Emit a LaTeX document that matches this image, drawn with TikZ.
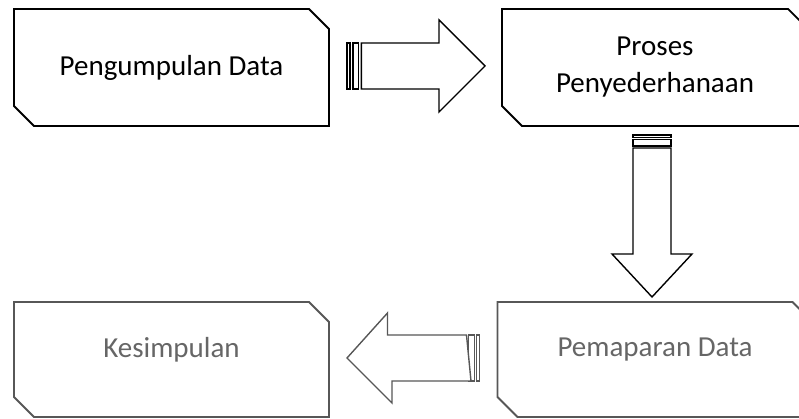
\documentclass[tikz,border=0pt]{standalone}
\usepackage{fontspec}
\setmainfont{Carlito}
\usetikzlibrary{positioning, calc}

\begin{document}
\begin{tikzpicture}[
        x=1pt, y=1pt,
        font=\fontsize{29}{37}\selectfont,
        stage/.style={rectangle, inner sep=0pt, outer sep=0pt, minimum width=315pt, minimum height=117pt, align=center},
        late/.style={text=black!60, minimum height=115pt, text depth=24pt},
        edge/.style={draw, line width=1.8pt, line join=miter},
        faded/.style={draw=black!66},
        barrow/.style={draw, line width=1.4pt, fill=white, line join=miter},
        node distance=176pt and 173pt
        ]
        \useasboundingbox (0,0) rectangle (799,419);
        % stages
        \node[stage] (data) at (171.5,351.5) {Pengumpulan Data};
        \node[stage, right=of data, minimum width=306pt] (proses) {Proses\\Penyederhanaan};
        \node[stage, late, below=of proses] (paparan) {Pemaparan Data};
        \node[stage, late, below=of data] (simpulan) {Kesimpulan};
        % chamfered outlines
        \foreach \n/\s in {data/, proses/, paparan/faded, simpulan/faded}
            \draw[edge, \s] ([xshift=-20pt]\n.north east) -- ([yshift=-20pt]\n.north east) -- (\n.south east)
                -- ([xshift=20pt]\n.south west) -- ([yshift=20pt]\n.south west) -- (\n.north west) -- cycle;
        % data -> proses
        \coordinate (a1) at ([xshift=18pt, yshift=1.5pt]data.east);
        \draw[barrow] (a1) ++(0,-23) rectangle ++(2.9,46);
        \draw[barrow] (a1) ++(5.8,-23) rectangle ++(5.8,46);
        \draw[barrow] (a1) ++(14.4,23) -- ++(77.6,0) -- ++(0,23) -- ($(proses.west)+(-17,1.5)$)
            -- ++(-46,-46) -- ++(0,23) -- ++(-77.6,0) -- cycle;
        % proses -> pemaparan
        \coordinate (a2) at ([xshift=-3pt, yshift=-9pt]proses.south);
        \draw[barrow] (a2) ++(-19,0) rectangle ++(38,-2.5);
        \draw[barrow] (a2) ++(-19,-4.5) rectangle ++(38,-6.5);
        \draw[barrow] (a2) ++(-19,-13) -- ++(38,0) -- ++(0,-106) -- ++(21,0)
            -- ($(paparan.north)+(-3,5)$) -- ++(-40,43) -- ++(21,0) -- cycle;
        % pemaparan -> kesimpulan
        \coordinate (a3) at ([xshift=-18pt, yshift=1.5pt]paparan.west);
        \draw[barrow, faded] (a3) ++(0,-23) rectangle ++(-2.9,46);
        \draw[barrow, faded] (a3) ++(-5.3,-23) rectangle ++(-5.5,46);
        \draw[barrow, faded] (a3) ++(-13,23) -- ++(-79,0) -- ++(0,22) -- ($(simpulan.east)+(18,1.5)$)
            -- ++(45,-45) -- ++(0,22) -- ++(79,0) -- cycle;
\end{tikzpicture}
\end{document}
